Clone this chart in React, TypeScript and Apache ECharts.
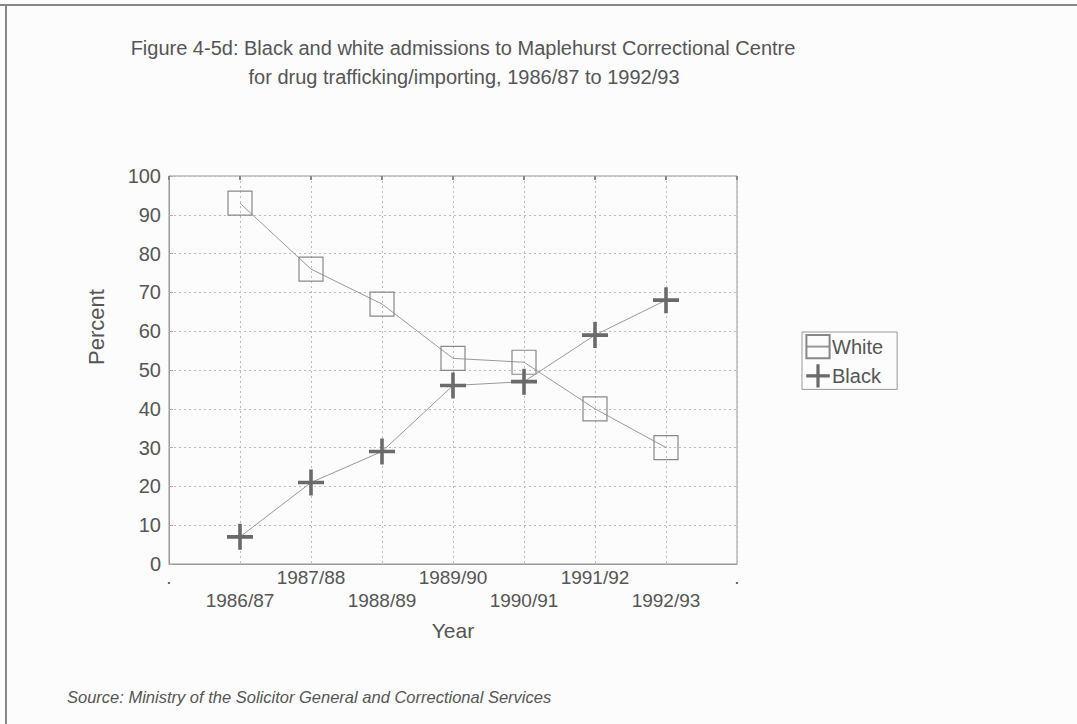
import React, { useEffect, useRef } from "react";
import * as echarts from "echarts";

const years = ["1986/87", "1987/88", "1988/89", "1989/90", "1990/91", "1991/92", "1992/93"];
const whiteValues = [93, 76, 67, 53, 52, 40, 30];
const blackValues = [7, 21, 29, 46, 47, 59, 68];
const yTicks = { min: 0, max: 100, interval: 10 };
const titleLines = [
  "Figure 4-5d: Black and white admissions to Maplehurst Correctional Centre",
  "for drug trafficking/importing, 1986/87 to 1992/93",
];
const sourceText = "Source: Ministry of the Solicitor General and Correctional Services";

const FONT = "'Liberation Sans', Arial, Helvetica, sans-serif";
const TEXT = "#555";
const PLUS = "path://M11.2,0 H14.8 V11.2 H26 V14.8 H14.8 V26 H11.2 V14.8 H0 V11.2 H11.2 Z";

export default function App() {
  const ref = useRef<HTMLDivElement>(null);
  useEffect(() => {
    if (!ref.current) return;
    const chart = echarts.init(ref.current, undefined, { renderer: "svg" });
    const cats = ["", ...years, ""];
    const pad = (arr: number[]) => [null, ...arr, null];
    chart.setOption({
      animation: false,
      backgroundColor: "#fcfcfc",
      textStyle: { fontFamily: FONT, color: TEXT },
      grid: {
        left: 169,
        right: 340,
        top: 176,
        bottom: 160,
        show: true,
        borderColor: "#999",
        borderWidth: 1,
        backgroundColor: "transparent",
      },
      legend: {
        orient: "vertical",
        left: 802,
        top: 332,
        data: ["White", "Black"],
        borderColor: "#999",
        borderWidth: 1,
        padding: [2, 14, 2, 3],
        itemGap: 5,
        itemWidth: 24,
        itemHeight: 29,
        textStyle: { fontFamily: FONT, fontSize: 20, color: TEXT, padding: [0, 0, 0, -3] },
      },
      xAxis: [
        {
          type: "category",
          data: cats,
          boundaryGap: false,
          name: "Year",
          nameLocation: "middle",
          nameGap: 56,
          nameTextStyle: { fontFamily: FONT, fontSize: 21, color: TEXT },
          axisLine: { show: true, lineStyle: { color: "#999", width: 1 } },
          axisTick: { show: false },
          axisLabel: {
            interval: 0,
            margin: 2,
            fontFamily: FONT,
            fontSize: 19,
            color: TEXT,
            lineHeight: 23,
            formatter: (v: string, i: number) =>
              i === 0 || i === cats.length - 1 ? "." : i % 2 === 1 ? "\n" + v : v,
          },
          splitLine: { show: true, lineStyle: { color: "#bbb", type: [2, 3], width: 1 } },
        },
        {
          type: "category",
          data: cats,
          boundaryGap: false,
          position: "top",
          axisLine: { show: false },
          axisTick: { show: true, inside: true, length: 4, interval: 0, lineStyle: { color: "#888", width: 2 } },
          axisLabel: { show: false },
          splitLine: { show: false },
        },
      ],
      yAxis: {
        type: "value",
        min: yTicks.min,
        max: yTicks.max,
        interval: yTicks.interval,
        axisLine: { show: true, lineStyle: { color: "#999", width: 1 } },
        axisTick: { show: true, inside: true, length: 4, lineStyle: { color: "#aaa" } },
        axisLabel: { margin: 8, fontFamily: FONT, fontSize: 20, color: TEXT },
        splitLine: { show: true, lineStyle: { color: "#bbb", type: [2, 3], width: 1 } },
      },
      series: [
        {
          name: "White",
          type: "line",
          data: pad(whiteValues),
          symbol: "rect",
          symbolSize: 24,
          showAllSymbol: true,
          lineStyle: { color: "#999", width: 1 },
          itemStyle: { color: "rgba(0,0,0,0)", borderColor: "#888", borderWidth: 1.2 },
          z: 3,
        },
        {
          name: "Black",
          type: "line",
          data: pad(blackValues),
          symbol: PLUS,
          symbolSize: 26,
          showAllSymbol: true,
          lineStyle: { color: "#999", width: 1 },
          itemStyle: { color: "#6a6a6a" },
          z: 4,
        },
      ],
      graphic: [
        { type: "line", shape: { x1: 0, y1: 5, x2: 1077, y2: 5 }, style: { stroke: "#888", lineWidth: 2 } },
        { type: "line", shape: { x1: 6, y1: 5, x2: 6, y2: 724 }, style: { stroke: "#888", lineWidth: 2 } },
        {
          type: "text",
          x: 463,
          y: 48,
          style: { text: titleLines[0], font: `20px ${FONT}`, fill: TEXT, align: "center", verticalAlign: "middle" },
        },
        {
          type: "text",
          x: 464,
          y: 77,
          style: { text: titleLines[1], font: `20px ${FONT}`, fill: TEXT, align: "center", verticalAlign: "middle" },
        },
        {
          type: "text",
          x: 96,
          y: 327,
          rotation: Math.PI / 2,
          style: { text: "Percent", font: `22px ${FONT}`, fill: TEXT, align: "center", verticalAlign: "middle" },
        },
        {
          type: "text",
          x: 67,
          y: 697,
          style: { text: sourceText, font: `italic 16.5px ${FONT}`, fill: TEXT, align: "left", verticalAlign: "middle" },
        },
      ],
    });
    return () => chart.dispose();
  }, []);
  return (
    <div
      ref={ref}
      style={{ position: "fixed", left: 0, top: 0, width: 1077, height: 724 }}
    />
  );
}
